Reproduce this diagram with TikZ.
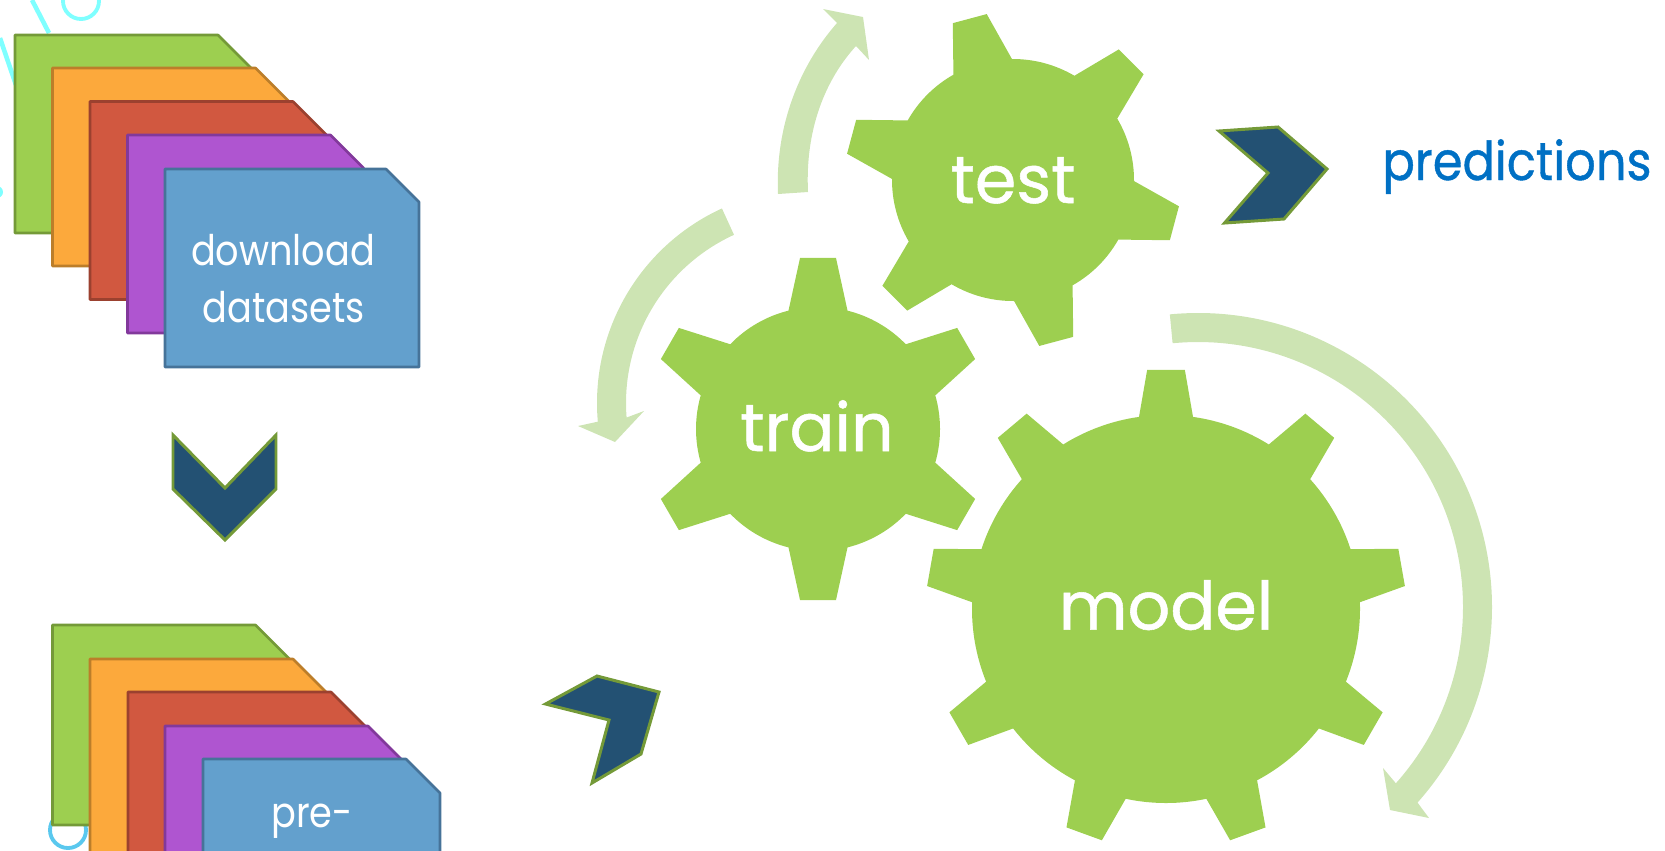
\documentclass[tikz,border=0pt]{standalone}
\usepackage{fontspec}
\setmainfont{Poppins}
\newfontfamily\gearfont[FakeBold=0.8]{Poppins}

\definecolor{cgreen}{HTML}{9DCF50}
\definecolor{cgreenb}{HTML}{749A38}
\definecolor{corange}{HTML}{FCA93C}
\definecolor{corangeb}{HTML}{BC7E2A}
\definecolor{cred}{HTML}{D15840}
\definecolor{credb}{HTML}{9B412F}
\definecolor{cpurple}{HTML}{AF55D0}
\definecolor{cpurpleb}{HTML}{82399B}
\definecolor{cblue}{HTML}{63A0CD}
\definecolor{cblueb}{HTML}{467399}
\definecolor{cnavy}{HTML}{235173}
\definecolor{cpale}{HTML}{CDE4B3}
\definecolor{ccyan}{HTML}{7FFFFF}
\definecolor{csky}{HTML}{5AC8EE}
\definecolor{cpred}{HTML}{0070C4}

\tikzstyle{sheet} = [line width=1.5pt, line join=round]
\tikzstyle{cardtext} = [anchor=base, text=white, xscale=0.87, transform shape, font=\fontsize{24}{28}\selectfont]
\tikzstyle{geartext} = [anchor=base, text=white, font=\gearfont\fontsize{38}{44}\selectfont]
\tikzstyle{chevron} = [fill=cnavy, draw=cgreenb, line width=1.7pt, miter limit=4]
\tikzstyle{turnarrow} = [fill=cpale]

% sheet: corner, flat top length, cut, height, fill, edge
\newcommand{\cardsheet}[6]{%
    \draw[sheet, fill=#5, draw=#6] #1 -- ++(#2,0) -- ++(#3,-#3) |- ++(-#2-#3,{#3-#4}) -- cycle;%
}

% gear: centre, tip radius, body radius, tip half angle, base half angle, step, first tooth, teeth less one
\newcommand{\gearwheel}[8]{%
    \fill[cgreen, shift={#1}] ({#7+#5}:#3)
        \foreach \i [evaluate=\i as \a using #7-\i*#6] in {0,...,#8} {
            -- ({\a+#5}:#3) -- ({\a+#4}:#2) -- ({\a-#4}:#2) -- ({\a-#5}:#3)
            arc[start angle={\a-#5}, end angle={\a-#6+#5}, radius=#3]
        } -- cycle;%
}

\begin{document}
\begin{tikzpicture}[x=0.02cm, y=0.02cm]

        \useasboundingbox (0,0) rectangle (1665,-850);
        \clip (0,0) rectangle (1665,-850);

        %% backdrop
        \draw[ccyan, line width=2.6pt] (32,0) -- (49,-33);
        \draw[ccyan, line width=2.6pt] (0,-38) -- (16,-85);
        \draw[ccyan, line width=2.2pt] (81,-1) circle (18);
        \fill[ccyan] (-3,-192) circle (6);
        \draw[csky, line width=2.2pt] (68,-830) circle (18);

        %% first stack
        \cardsheet{(15,-35)}{203}{33}{198}{cgreen}{cgreenb}
        \cardsheet{(52.5,-68)}{203}{33}{198}{corange}{corangeb}
        \cardsheet{(90,-101.5)}{203}{33}{198}{cred}{credb}
        \cardsheet{(127.5,-135)}{203}{33}{198}{cpurple}{cpurpleb}
        \cardsheet{(165,-169)}{221}{33}{198}{cblue}{cblueb}
        \node (dlone) [cardtext] at (283,-265) {download};
        \node (dltwo) [cardtext] at (284,-322) {datasets};

        %% second stack
        \cardsheet{(52.5,-625)}{203}{34}{200}{cgreen}{cgreenb}
        \cardsheet{(90,-659)}{203}{34}{200}{corange}{corangeb}
        \cardsheet{(128,-692)}{203}{34}{200}{cred}{credb}
        \cardsheet{(165,-726)}{203}{34}{200}{cpurple}{cpurpleb}
        \cardsheet{(203,-759)}{203}{34}{200}{cblue}{cblueb}
        \node (ppone) [cardtext] at (312,-827) {pre-};

        %% chevrons
        \draw[chevron] (173,-435) -- (225,-488) -- (276,-435) -- (276,-489) -- (225,-540) -- (173,-489) -- cycle;
        \draw[chevron] (545.5,-704) -- (597,-676) -- (659,-692) -- (641,-754) -- (592,-783) -- (609,-720) -- cycle;
        \draw[chevron] (1219,-131) -- (1278,-127) -- (1327,-169) -- (1284,-219) -- (1224.5,-223) -- (1268,-173) -- cycle;

        %% gears
        \gearwheel{(818,-429)}{172}{122}{6}{14}{60}{90}{5}
        \gearwheel{(1013,-180)}{168}{121}{6}{14.5}{60}{105}{5}
        \gearwheel{(1166,-609)}{240}{194}{4.5}{8}{40}{90}{8}

        \node (gtrain) [geartext] at (817,-451) {train};
        \node (gtest) [geartext] at (1013,-203) {test};
        \node (gmodel) [geartext] at (1166,-629.5) {model};

        %% turning arrows
        \fill[turnarrow] (778,-194) .. controls (775,-125) and (800,-65) .. (837,-23) -- (823,-9) -- (863,-17) -- (869,-60) -- (856,-46) .. controls (825,-80) and (805,-130) .. (808,-192) -- cycle;
        \fill[turnarrow, shift={(811,-403)}] (114.6:214) arc[start angle=114.6, end angle=185, radius=214] -- (-233,-23) -- (-196,-39) -- (-167,-8) -- (184.5:185) arc[start angle=184.5, end angle=114.6, radius=185] -- cycle;
        \fill[turnarrow, shift={(1198,-607)}] (95.5:294) arc[start angle=95.5, end angle=-41.7, radius=294] -- (231,-211) -- (192,-203) -- (185,-161) -- (-41.7:265) arc[start angle=-41.7, end angle=95.5, radius=265] -- cycle;

        %% output
        \node (outp) [anchor=base, text=cpred, xscale=0.895, transform shape, font=\gearfont\fontsize{30.5}{36}\selectfont] at (1517,-180) {predictions};

\end{tikzpicture}
\end{document}
